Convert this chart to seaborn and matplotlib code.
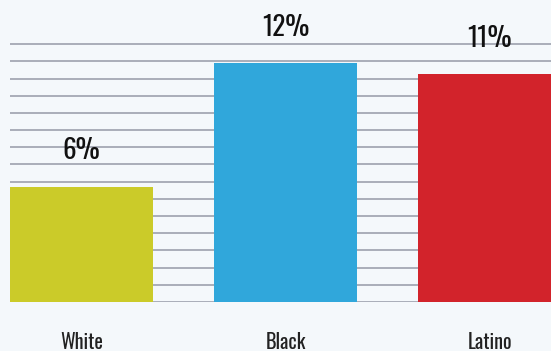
import numpy as np
import pandas as pd
import seaborn as sns
import matplotlib.pyplot as plt

groups = ['White', 'Black', 'Latino']
rates = [5.8, 12.0, 11.45]
rate_labels = ['6%', '12%', '11%']
bar_colors = ['#cbcb29', '#30a7db', '#d2232b']

df = pd.DataFrame({'group': groups, 'rate': rates})

bg = '#f4f8fb'
fig = plt.figure(figsize=(5.51, 3.51), dpi=100, facecolor=bg)
ax = fig.add_axes([10 / 551, 49 / 351, 541 / 551, 302 / 351])
ax.set_facecolor(bg)

sns.barplot(data=df, x='group', y='rate', hue='group', palette=bar_colors,
            legend=False, width=0.7, saturation=1, ax=ax)

ax.set_xlim(-0.35, 2.30)
ax.set_ylim(0, 15.18)

# ruled background lines
ax.set_yticks(np.linspace(0, 12.96, 16))
ax.yaxis.grid(True, color='#a4a8b3', linewidth=1.3)
ax.set_axisbelow(True)
ax.tick_params(left=False, bottom=False, labelleft=False, labelbottom=False)
for s in ax.spines.values():
    s.set_visible(False)
ax.set_xlabel('')
ax.set_ylabel('')

for i, (v, lab) in enumerate(zip(rates, rate_labels)):
    ax.text(i, v + 1.8, lab, ha='center', va='center', fontsize=19.5,
            family='Oswald', color='#111111')
    ax.text(i, -2.0, groups[i], ha='center', va='center', fontsize=14.5,
            family='Oswald', color='#222222', clip_on=False)

fig.savefig('out.png', dpi=100, facecolor=bg)
